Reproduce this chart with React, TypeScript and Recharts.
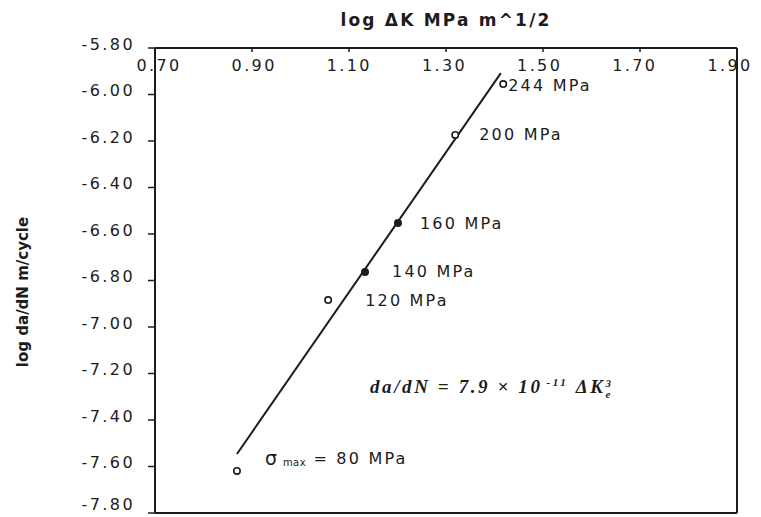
// @ts-nocheck
import React from 'react';
import { ScatterChart, Scatter, XAxis, YAxis, ReferenceLine } from 'recharts';

const xTicks = [0.7, 0.9, 1.1, 1.3, 1.5, 1.7, 1.9];
const yTicks = [-5.8, -6.0, -6.2, -6.4, -6.6, -6.8, -7.0, -7.2, -7.4, -7.6, -7.8];

// open markers
const openStress = ['244 MPa', '200 MPa', '120 MPa', '80 MPa'];
const openLogDK = [1.418, 1.319, 1.057, 0.869];
const openLogRate = [-5.955, -6.174, -6.884, -7.619];

// filled markers
const solidStress = ['160 MPa', '140 MPa'];
const solidLogDK = [1.201, 1.133];
const solidLogRate = [-6.553, -6.763];

// fitted line end points
const fitLogDK = [0.869, 1.413];
const fitLogRate = [-7.546, -5.908];

const openData = openStress.map((s, i) => ({ x: openLogDK[i], y: openLogRate[i], label: s }));
const solidData = solidStress.map((s, i) => ({ x: solidLogDK[i], y: solidLogRate[i], label: s }));
const fitData = fitLogDK.map((x, i) => ({ x, y: fitLogRate[i] }));

const ink = '#1c1c1c';
const font = '"DejaVu Sans", Arial, sans-serif';

// where each stress label sits relative to its point
const labelNudge = {
  '244 MPa': [5, 1],
  '200 MPa': [24, 0],
  '160 MPa': [22, 0],
  '140 MPa': [27, 0],
  '120 MPa': [37, 0],
  '80 MPa': [28, -13],
};

function PointLabel({ cx, cy, label }) {
  const [dx, dy] = labelNudge[label] || [8, 0];
  const common = { fill: ink, fontFamily: font, fontSize: 16, letterSpacing: 2.2, dominantBaseline: 'central' };
  if (label === '80 MPa') {
    return (
      <text x={cx + dx} y={cy + dy} {...common}>
        <tspan fontSize={19}>σ</tspan>
        <tspan fontSize={10} letterSpacing={0.5} dy={4}> max</tspan>
        <tspan dy={-4}> = 80 MPa</tspan>
      </text>
    );
  }
  return (
    <text x={cx + dx} y={cy + dy} {...common}>
      {label}
    </text>
  );
}

const OpenMarker = (p) => (
  <g>
    <circle cx={p.cx} cy={p.cy} r={3.2} fill="#fff" stroke={ink} strokeWidth={1.6} />
    <PointLabel cx={p.cx} cy={p.cy} label={p.payload.label} />
  </g>
);

const SolidMarker = (p) => (
  <g>
    <circle cx={p.cx} cy={p.cy} r={4} fill={ink} />
    <PointLabel cx={p.cx} cy={p.cy} label={p.payload.label} />
  </g>
);

// the scanned labels drift a little left of their ticks towards the right end
const XTick = ({ x, y, payload }) => (
  <text
    x={x + 4 - (11 * (payload.value - 0.7)) / 1.2}
    y={y}
    dy="0.75em"
    textAnchor="middle"
    fill={ink}
    fontFamily={font}
    fontSize={16}
    letterSpacing={2.4}
  >
    {payload.value.toFixed(2)}
  </text>
);

const YTick = ({ x, y, payload }) => (
  <text x={x + 2} y={y - 4} textAnchor="end" dominantBaseline="central" fill={ink} fontFamily={font} fontSize={16} letterSpacing={2.4}>
    {payload.value.toFixed(2)}
  </text>
);

export default function App() {
  return (
    <div style={{ position: 'relative', width: 761, height: 517, background: '#fff' }}>
      <style>{'body{margin:0}'}</style>
      <div
        style={{
          position: 'absolute',
          left: 0,
          width: 892,
          top: 10,
          textAlign: 'center',
          fontFamily: font,
          fontWeight: 'bold',
          fontSize: 17,
          letterSpacing: 2.2,
          color: ink,
        }}
      >
        log ΔK MPa m^1/2
      </div>
      <div
        style={{
          position: 'absolute',
          left: 23,
          top: 292,
          transform: 'translate(-50%, -50%) rotate(-90deg)',
          whiteSpace: 'nowrap',
          fontFamily: font,
          fontWeight: 'bold',
          fontSize: 15,
          color: ink,
        }}
      >
        log da/dN m/cycle
      </div>
      <div
        style={{
          position: 'absolute',
          left: 370,
          top: 376,
          whiteSpace: 'nowrap',
          fontFamily: '"Liberation Serif", "Times New Roman", serif',
          fontWeight: 'bold',
          fontStyle: 'italic',
          fontSize: 19,
          letterSpacing: 2.6,
          color: ink,
        }}
      >
        da/dN = 7.9 × 10
        <sup style={{ fontSize: 11, marginLeft: 4 }}>-11</sup> ΔK
        <span style={{ display: 'inline-flex', flexDirection: 'column', verticalAlign: 'middle', fontSize: 11, lineHeight: '11px' }}>
          <span>3</span>
          <span>e</span>
        </span>
      </div>
      <ScatterChart width={761} height={517} margin={{ top: 48, right: 24, bottom: 4, left: 0 }}>
        <XAxis
          type="number"
          dataKey="x"
          orientation="top"
          mirror
          domain={[0.7, 1.9]}
          ticks={xTicks}
          allowDataOverflow
          tick={<XTick />}
          tickSize={4}
          tickMargin={7}
          axisLine={{ stroke: ink, strokeWidth: 2 }}
          tickLine={{ stroke: ink, strokeWidth: 1.5 }}
        />
        <YAxis
          type="number"
          dataKey="y"
          width={155}
          domain={[-7.8, -5.8]}
          ticks={yTicks}
          allowDataOverflow
          tick={<YTick />}
          tickSize={7}
          tickMargin={15}
          axisLine={{ stroke: ink, strokeWidth: 2 }}
          tickLine={{ stroke: ink, strokeWidth: 1.5 }}
        />
        <ReferenceLine x={1.9} stroke={ink} strokeWidth={2} />
        <ReferenceLine y={-7.8} stroke={ink} strokeWidth={2} />
        <Scatter data={fitData} line={{ stroke: ink, strokeWidth: 2 }} shape={() => <g />} isAnimationActive={false} />
        <Scatter data={openData} shape={OpenMarker} isAnimationActive={false} />
        <Scatter data={solidData} shape={SolidMarker} isAnimationActive={false} />
      </ScatterChart>
    </div>
  );
}
